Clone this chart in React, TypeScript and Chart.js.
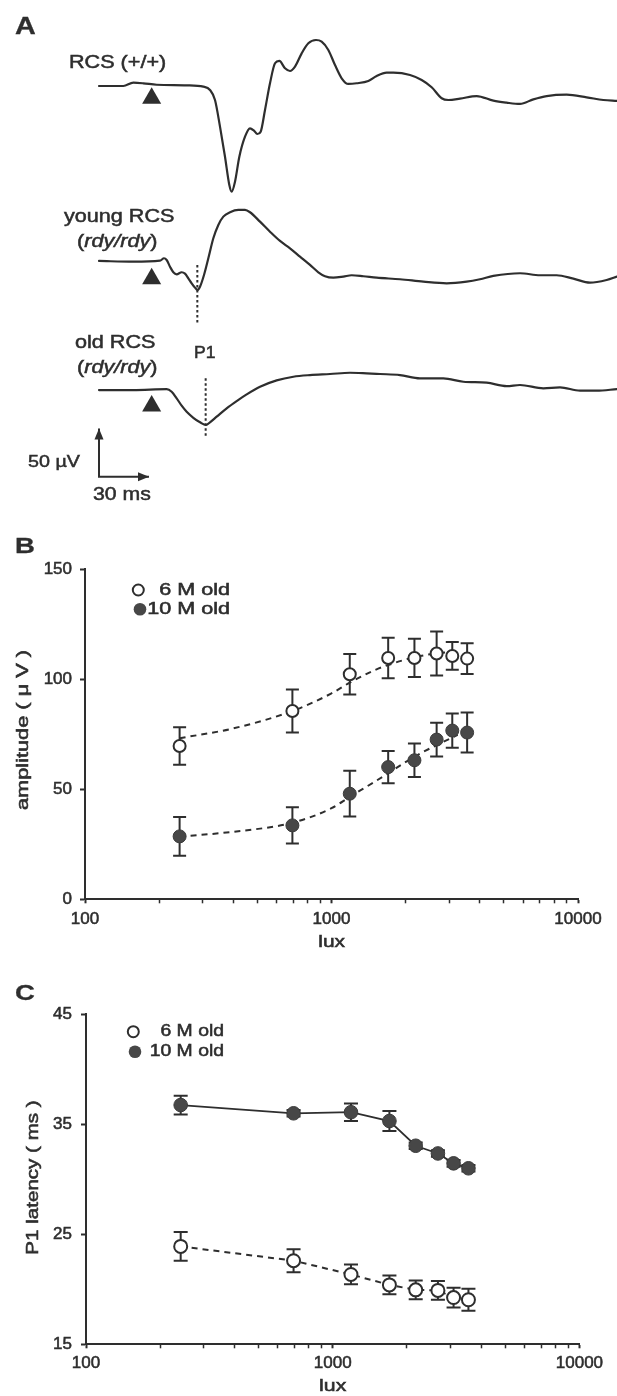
import React, { useEffect, useRef } from "react";
import { Chart, registerables } from "chart.js";

Chart.register(...registerables);

const INK = "#2e2e2e";
const DOT_FILL = "#474747";
const FONT = "'Liberation Sans', Arial, Helvetica, sans-serif";
const TEXT_STROKE = 0.55;

// ---------- Panel A : ERG traces (ms from trace start, µV) ----------
const RCS_T = [0, 14.6, 20.6, 26.6, 34.6, 52.6, 62.6, 66.6, 69.6, 72.6, 75.6, 78.2, 79.6, 81.6, 84.2, 87.6, 90.6, 93.0, 95.0, 97.0, 99.6, 102.6, 105.6, 108.2, 111.6, 114.6, 117.6, 121.6, 125.6, 130.2, 133.6, 137.6, 141.6, 145.6, 149.6, 154.6, 161.6, 166.6, 172.6, 176.6, 186.6, 193.6, 199.6, 205.6, 209.6, 216.6, 226.6, 236.6, 244.6, 252.6, 260.6, 268.6, 280.6, 292.6, 302.6, 310.8];
const RCS_V = [0, 0, 3.4, 2.8, 1.3, 0.7, -0.7, -4.1, -14.5, -42.1, -73.2, -102.5, -109.4, -99.0, -73.2, -52.5, -43.8, -46.3, -49.7, -47.3, -24.8, 2.8, 23.5, 25.9, 18.3, 15.5, 20.0, 33.8, 44.2, 47.6, 45.9, 37.3, 21.7, 8.0, 2.1, 2.8, 5.2, 10.4, 13.8, 13.8, 11.4, 6.2, -1.3, -12.7, -14.5, -13.1, -10.4, -15.2, -17.3, -18.6, -13.8, -10.4, -9.0, -11.7, -14.5, -15.5];

const YOUNG_T = [0, 20.6, 36.6, 39.0, 40.6, 42.6, 44.6, 46.6, 49.6, 51.6, 53.6, 55.6, 57.6, 59.0, 60.6, 63.0, 65.6, 68.6, 71.6, 74.6, 78.6, 83.6, 87.6, 90.6, 96.6, 102.6, 108.6, 114.6, 120.6, 126.6, 131.6, 135.6, 140.6, 146.6, 151.6, 158.6, 166.6, 180.6, 194.6, 208.6, 220.6, 228.6, 236.6, 252.6, 264.6, 274.6, 284.6, 294.6, 304.6, 310.8];
const YOUNG_V = [0, -0.7, 0.3, 2.8, 1.0, -5.9, -11.7, -13.8, -11.7, -13.1, -17.9, -23.1, -27.6, -30.0, -26.6, -14.5, 2.8, 23.5, 37.3, 45.9, 50.4, 52.8, 52.8, 50.4, 40.7, 30.3, 20.7, 13.1, 4.5, -4.1, -11.7, -15.8, -17.3, -16.2, -14.8, -15.8, -17.3, -18.9, -21.4, -23.1, -21.4, -18.9, -15.5, -12.7, -14.8, -14.8, -18.3, -22.5, -19.7, -16.2];

const OLD_T = [0, 20.6, 40.6, 43.6, 46.6, 49.6, 52.6, 56.6, 60.6, 64.2, 66.6, 70.6, 76.6, 82.6, 88.6, 96.6, 106.6, 116.6, 126.6, 138.6, 150.6, 160.6, 168.6, 180.6, 192.6, 206.6, 218.6, 232.6, 244.6, 252.6, 266.6, 276.6, 288.6, 298.6, 310.8];
const OLD_V = [0, 0, 1.0, -1.8, -8.6, -16.2, -22.5, -28.7, -33.4, -36.2, -33.4, -27.6, -18.9, -11.4, -4.5, 3.4, 10.0, 13.8, 15.5, 16.6, 17.9, 17.3, 16.6, 15.5, 12.1, 12.1, 8.6, 7.6, 4.1, 5.2, 1.8, 2.8, -0.7, -0.7, 1.0];

const STIMULUS_MS = 31.6;
const P1_YOUNG_MS = 59.0;
const P1_OLD_MS = 64.0;
const SCALE_BAR_UV = 50;
const SCALE_BAR_MS = 30;

// ---------- Panels B & C ----------
const LUX = [242, 694, 1186, 1698, 2170, 2670, 3090, 3550];
const AMP_6M = [69.7, 85.6, 102.3, 109.7, 109.7, 111.7, 110.6, 109.4];
const AMP_6M_SEM = [8.5, 9.8, 9.2, 9.2, 8.7, 10.0, 6.3, 7.0];
const AMP_10M = [28.6, 33.6, 48.0, 60.1, 63.2, 72.6, 76.7, 75.8];
const AMP_10M_SEM = [8.8, 8.2, 10.4, 7.3, 7.6, 7.7, 7.8, 9.1];
const FIT_LUX = [242, 400, 694, 1000, 1186, 1500, 1698, 2170, 2670, 3250];
const FIT_6M = [73.2, 77.7, 85.6, 93.6, 98.5, 104.2, 106.5, 110.0, 111.8, 112.5];
const FIT_10M = [28.5, 30.7, 34.8, 41.4, 46.6, 53.5, 57.3, 64.8, 70.1, 74.7];

const LAT_6M = [23.9, 22.6, 21.35, 20.4, 19.95, 19.9, 19.25, 19.05];
const LAT_6M_SEM = [1.3, 1.05, 0.9, 0.85, 0.85, 0.85, 0.9, 1.0];
const LAT_10M = [36.75, 36.0, 36.1, 35.3, 33.05, 32.35, 31.45, 31.0];
const LAT_10M_SEM = [0.85, 0.3, 0.8, 0.9, 0.3, 0.3, 0.3, 0.3];

const LUX_TICKS = [100, 200, 300, 400, 500, 600, 700, 800, 900, 1000, 2000, 3000, 4000, 5000, 6000, 7000, 8000, 9000, 10000];
const LUX_LABELS = [100, 1000, 10000];
const LEGEND_LABELS = ["6 M old", "10 M old"];

// ---------- layout constants (display only) ----------
const A_BASELINE = [-89.0, -270.1, -403.7];
const A_TRI_DROP = [-12.7, -18.3, -16.6];
const A_SCALEBAR_Y = -493.4;

function stretchText(ctx: CanvasRenderingContext2D, text: string, x: number, y: number, sx: number, align: CanvasTextAlign, vertical: boolean, size: number) {
  ctx.save();
  ctx.translate(x, y);
  if (vertical) ctx.rotate(-Math.PI / 2);
  ctx.scale(sx, 1);
  ctx.font = `normal ${size}px ${FONT}`;
  ctx.textAlign = align;
  ctx.textBaseline = "middle";
  ctx.fillStyle = INK;
  ctx.strokeStyle = INK;
  ctx.lineWidth = TEXT_STROKE;
  ctx.fillText(text, 0, 0);
  ctx.strokeText(text, 0, 0);
  ctx.restore();
}

const errorBarPlugin = {
  id: "errorBars",
  beforeDatasetsDraw(chart: any) {
    const ctx = chart.ctx;
    const ys = chart.scales.y;
    chart.data.datasets.forEach((ds: any, i: number) => {
      if (!ds.errors) return;
      const meta = chart.getDatasetMeta(i);
      ctx.save();
      ctx.strokeStyle = INK;
      ctx.lineWidth = 2;
      meta.data.forEach((pt: any, j: number) => {
        const v = ds.data[j].y;
        const e = ds.errors[j];
        const top = ys.getPixelForValue(v + e);
        const bot = ys.getPixelForValue(v - e);
        const cap = ds.capHalf || 6.5;
        ctx.beginPath();
        ctx.moveTo(pt.x, top);
        ctx.lineTo(pt.x, bot);
        ctx.moveTo(pt.x - cap, top);
        ctx.lineTo(pt.x + cap, top);
        ctx.moveTo(pt.x - cap, bot);
        ctx.lineTo(pt.x + cap, bot);
        ctx.stroke();
      });
      ctx.restore();
    });
  },
};

function makeDecor(cfg: any) {
  return {
    id: "decor",
    afterDraw(chart: any) {
      const ctx = chart.ctx as CanvasRenderingContext2D;
      const L = cfg.legend;
      ctx.save();
      ctx.beginPath();
      ctx.arc(L.openX, L.openY, 5.5, 0, Math.PI * 2);
      ctx.fillStyle = "#fff";
      ctx.fill();
      ctx.lineWidth = 2;
      ctx.strokeStyle = INK;
      ctx.stroke();
      ctx.beginPath();
      ctx.arc(L.fillX, L.fillY, 6.3, 0, Math.PI * 2);
      ctx.fillStyle = DOT_FILL;
      ctx.fill();
      ctx.restore();
      stretchText(ctx, LEGEND_LABELS[0], L.textRight, L.openY, L.sx, "right", false, 17);
      stretchText(ctx, LEGEND_LABELS[1], L.textRight, L.fillY, L.sx, "right", false, 17);
      const yt = cfg.yTitle;
      stretchText(ctx, yt.text, yt.x, yt.y, yt.sx, "center", true, 17);
      const xt = cfg.xTitle;
      stretchText(ctx, xt.text, xt.x, xt.y, xt.sx, "center", false, 17);
    },
  };
}

const arrowPlugin = {
  id: "arrows",
  afterDatasetsDraw(chart: any) {
    const idx = chart.data.datasets.length - 1;
    const meta = chart.getDatasetMeta(idx);
    const p0 = meta.data[0];
    const p2 = meta.data[2];
    const ctx = chart.ctx;
    ctx.save();
    ctx.fillStyle = INK;
    ctx.beginPath();
    ctx.moveTo(p0.x, p0.y);
    ctx.lineTo(p0.x - 4.5, p0.y + 11);
    ctx.lineTo(p0.x + 4.5, p0.y + 11);
    ctx.closePath();
    ctx.fill();
    ctx.beginPath();
    ctx.moveTo(p2.x, p2.y);
    ctx.lineTo(p2.x - 11, p2.y - 4.5);
    ctx.lineTo(p2.x - 11, p2.y + 4.5);
    ctx.closePath();
    ctx.fill();
    ctx.restore();
  },
};

function traceDataset(T: number[], V: number[], base: number) {
  return {
    type: "line",
    data: T.map((t, i) => ({ x: t, y: V[i] + base })),
    borderColor: INK,
    borderWidth: 2.2,
    pointRadius: 0,
    cubicInterpolationMode: "monotone",
    fill: false,
    borderJoinStyle: "round",
    borderCapStyle: "round",
  };
}

function buildPanelA(): any {
  const sb = A_SCALEBAR_Y;
  return {
    type: "line",
    data: {
      datasets: [
        traceDataset(RCS_T, RCS_V, A_BASELINE[0]),
        traceDataset(YOUNG_T, YOUNG_V, A_BASELINE[1]),
        traceDataset(OLD_T, OLD_V, A_BASELINE[2]),
        {
          type: "scatter",
          data: A_BASELINE.map((b, i) => ({ x: STIMULUS_MS, y: b + A_TRI_DROP[i] })),
          showLine: false,
          pointStyle: "triangle",
          pointRadius: 11,
          pointBackgroundColor: INK,
          pointBorderColor: INK,
          pointBorderWidth: 0,
        },
        {
          type: "line",
          data: [{ x: P1_YOUNG_MS, y: A_BASELINE[1] - 4.1 }, { x: P1_YOUNG_MS, y: A_BASELINE[1] - 64.5 }],
          borderColor: INK,
          borderWidth: 2,
          borderDash: [2.5, 2.5],
          pointRadius: 0,
          tension: 0,
        },
        {
          type: "line",
          data: [{ x: P1_OLD_MS, y: A_BASELINE[2] + 12.1 }, { x: P1_OLD_MS, y: A_BASELINE[2] - 50.0 }],
          borderColor: INK,
          borderWidth: 2,
          borderDash: [2.5, 2.5],
          pointRadius: 0,
          tension: 0,
        },
        {
          type: "line",
          data: [{ x: 0, y: sb + SCALE_BAR_UV }, { x: 0, y: sb }, { x: SCALE_BAR_MS, y: sb }],
          borderColor: INK,
          borderWidth: 2,
          pointRadius: 0,
          tension: 0,
          borderJoinStyle: "miter",
        },
      ],
    },
    options: {
      responsive: false,
      animation: false,
      events: [],
      layout: { padding: 0, autoPadding: false },
      plugins: { legend: { display: false }, tooltip: { enabled: false } },
      scales: {
        x: { type: "linear", display: false, min: -59.4, max: 310.8 },
        y: { type: "linear", display: false, min: -538.2, max: 0 },
      },
    },
    plugins: [arrowPlugin],
  };
}

function logX(axisH: number, pad: number) {
  return {
    type: "logarithmic",
    min: 100,
    max: 10000,
    afterBuildTicks: (s: any) => {
      s.ticks = LUX_TICKS.map((v) => ({ value: v, major: LUX_LABELS.includes(v) }));
    },
    afterFit: (s: any) => {
      s.height = axisH;
    },
    ticks: {
      autoSkip: false,
      maxRotation: 0,
      minRotation: 0,
      padding: pad,
      color: INK,
      textStrokeColor: INK,
      textStrokeWidth: TEXT_STROKE,
      font: { family: FONT, size: 17 },
      callback: (v: any) => (LUX_LABELS.includes(Number(v)) ? String(v) : ""),
    },
    grid: {
      drawOnChartArea: false,
      drawTicks: true,
      tickLength: 4,
      tickColor: INK,
      tickWidth: (c: any) => (c.tick && LUX_LABELS.includes(c.tick.value) ? 2 : 1.5),
    },
    border: { display: true, color: INK, width: 2 },
  };
}

function linY(min: number, max: number, step: number, width: number, pad: number) {
  return {
    type: "linear",
    min,
    max,
    afterFit: (s: any) => {
      s.width = width;
    },
    ticks: {
      stepSize: step,
      padding: pad,
      color: INK,
      textStrokeColor: INK,
      textStrokeWidth: TEXT_STROKE,
      font: { family: FONT, size: 17 },
    },
    grid: { drawOnChartArea: false, drawTicks: true, tickLength: 5, tickColor: INK, tickWidth: 2 },
    border: { display: true, color: INK, width: 2 },
  };
}

function buildPanelB(): any {
  return {
    type: "line",
    data: {
      datasets: [
        {
          data: LUX.map((x, i) => ({ x, y: AMP_6M[i] })),
          errors: AMP_6M_SEM,
          capHalf: 6.5,
          showLine: false,
          pointRadius: 6,
          pointBackgroundColor: "#ffffff",
          pointBorderColor: INK,
          pointBorderWidth: 2,
        },
        {
          data: LUX.map((x, i) => ({ x, y: AMP_10M[i] })),
          errors: AMP_10M_SEM,
          capHalf: 6.5,
          showLine: false,
          pointRadius: 6.5,
          pointBackgroundColor: DOT_FILL,
          pointBorderColor: "#3a3a3a",
          pointBorderWidth: 1,
        },
        {
          data: FIT_LUX.map((x, i) => ({ x, y: FIT_6M[i] })),
          showLine: true,
          borderColor: INK,
          borderWidth: 2,
          borderDash: [6, 5],
          pointRadius: 0,
          cubicInterpolationMode: "monotone",
        },
        {
          data: FIT_LUX.map((x, i) => ({ x, y: FIT_10M[i] })),
          showLine: true,
          borderColor: INK,
          borderWidth: 2,
          borderDash: [6, 5],
          pointRadius: 0,
          cubicInterpolationMode: "monotone",
        },
      ],
    },
    options: {
      responsive: false,
      animation: false,
      events: [],
      layout: { padding: { left: 0, right: 39, top: 39.3, bottom: 0 }, autoPadding: false },
      plugins: { legend: { display: false }, tooltip: { enabled: false } },
      scales: { x: logX(60.7, 5.5), y: linY(0, 150, 50, 85, 8) },
    },
    plugins: [
      errorBarPlugin,
      makeDecor({
        legend: { openX: 138.3, openY: 60, fillX: 140, fillY: 79.3, textRight: 230, sx: 1.27 },
        yTitle: { text: "amplitude ( μ V )", x: 23.3, y: 200, sx: 1.28 },
        xTitle: { text: "lux", x: 331.7, y: 412.5, sx: 1.23 },
      }),
    ],
  };
}

function buildPanelC(): any {
  return {
    type: "line",
    data: {
      datasets: [
        {
          data: LUX.map((x, i) => ({ x, y: LAT_6M[i] })),
          errors: LAT_6M_SEM,
          capHalf: 7,
          showLine: true,
          borderColor: INK,
          borderWidth: 2,
          borderDash: [6, 5],
          tension: 0,
          pointRadius: 6.5,
          pointBackgroundColor: "#ffffff",
          pointBorderColor: INK,
          pointBorderWidth: 2,
        },
        {
          data: LUX.map((x, i) => ({ x, y: LAT_10M[i] })),
          errors: LAT_10M_SEM,
          capHalf: 7,
          showLine: true,
          borderColor: INK,
          borderWidth: 1.8,
          tension: 0,
          pointRadius: 6.8,
          pointBackgroundColor: DOT_FILL,
          pointBorderColor: "#3a3a3a",
          pointBorderWidth: 1,
        },
      ],
    },
    options: {
      responsive: false,
      animation: false,
      events: [],
      layout: { padding: { left: 0, right: 37.6, top: 54.3, bottom: 0 }, autoPadding: false },
      plugins: { legend: { display: false }, tooltip: { enabled: false } },
      scales: { x: logX(51.7, 4.5), y: linY(15, 45, 10, 86, 9) },
    },
    plugins: [
      errorBarPlugin,
      makeDecor({
        legend: { openX: 133.3, openY: 71.7, fillX: 135, fillY: 91.7, textRight: 224, sx: 1.14 },
        yTitle: { text: "P1 latency ( ms )", x: 33.3, y: 217.5, sx: 1.21 },
        xTitle: { text: "lux", x: 332.7, y: 426, sx: 1.25 },
      }),
    ],
  };
}

function ChartCanvas({ top, height, build }: { top: number; height: number; build: () => any }) {
  const ref = useRef<HTMLCanvasElement | null>(null);
  useEffect(() => {
    const chart = new Chart(ref.current as HTMLCanvasElement, build());
    return () => chart.destroy();
  }, []);
  return (
    <canvas
      ref={ref}
      width={617}
      height={height}
      style={{ position: "absolute", left: 0, top, width: 617, height, display: "block" }}
    />
  );
}

function Label({ left, top, size, sx = 1.2, bold = false, children }: any) {
  return (
    <div
      style={{
        position: "absolute",
        left,
        top,
        fontSize: size,
        lineHeight: 1,
        fontWeight: bold ? "bold" : "normal",
        fontFamily: FONT,
        color: INK,
        whiteSpace: "nowrap",
        transform: `scaleX(${sx})`,
        transformOrigin: "left top",
        WebkitTextStroke: bold ? "0.3px #2e2e2e" : "0.5px #2e2e2e",
      }}
    >
      {children}
    </div>
  );
}

export default function App() {
  return (
    <div
      style={{
        position: "absolute",
        left: 0,
        top: 0,
        width: 617,
        height: 1396,
        background: "#ffffff",
        overflow: "hidden",
      }}
    >
      <ChartCanvas top={0} height={520} build={buildPanelA} />
      <ChartCanvas top={530} height={430} build={buildPanelB} />
      <ChartCanvas top={960} height={436} build={buildPanelC} />

      <Label left={15} top={14.8} size={23} sx={1.25} bold>A</Label>
      <Label left={15} top={534.7} size={22} sx={1.25} bold>B</Label>
      <Label left={15} top={982.1} size={22} sx={1.25} bold>C</Label>

      <Label left={69.3} top={53.1} size={18}>RCS (+/+)</Label>
      <Label left={64} top={206.5} size={18}>young RCS</Label>
      <Label left={77.3} top={231.5} size={18}>(<i>rdy/rdy</i>)</Label>
      <Label left={75} top={333.1} size={18}>old RCS</Label>
      <Label left={76.7} top={358.1} size={18}>(<i>rdy/rdy</i>)</Label>
      <Label left={194.3} top={344.8} size={16} sx={1.1}>P1</Label>
      <Label left={28.3} top={453.3} size={17} sx={1.16}>50 µV</Label>
      <Label left={92.7} top={484.8} size={18} sx={1.18}>30 ms</Label>
    </div>
  );
}
